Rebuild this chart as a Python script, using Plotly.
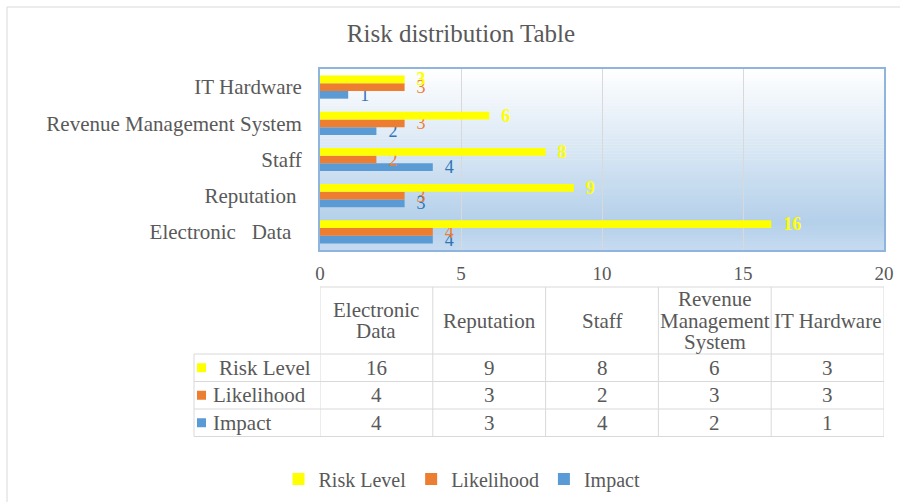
import plotly.graph_objects as go

# ---------------- data ----------------
categories = ["Electronic Data", "Reputation", "Staff", "Revenue Management System", "IT Hardware"]
tick_labels = ["Electronic\u00a0\u00a0\u00a0Data\u00a0\u00a0", "Reputation\u00a0", "Staff", "Revenue Management System", "IT Hardware"]
table_headers = ["Electronic<br>Data", "Reputation", "Staff", "Revenue<br>Management<br>System", "IT Hardware"]
risk_level = [16, 9, 8, 6, 3]
likelihood = [4, 3, 2, 3, 3]
impact = [4, 3, 4, 2, 1]
series_names = ["Risk Level", "Likelihood", "Impact"]
title_text = "Risk distribution Table"

W, H = 900, 502
FONT = "Liberation Serif, Times New Roman, serif"
GRAY = "#595959"
C_RISK, C_LIKE, C_IMP = "#ffff00", "#ed7d31", "#5b9bd5"


def px(x):
    return x / W


def py(y):
    return 1 - y / H


fig = go.Figure()
for name, vals, col, tcol, bold in [
    ("Impact", impact, C_IMP, "#2e75b6", False),
    ("Likelihood", likelihood, C_LIKE, "#ed7d31", False),
    ("Risk Level", risk_level, C_RISK, "#ffff00", True),
]:
    fig.add_trace(go.Bar(
        y=categories, x=vals, orientation="h", name=name,
        marker=dict(color=col, line=dict(width=0)),
        text=[("\u00a0\u00a0<b>%d</b>" if bold else "\u00a0\u00a0%d") % v for v in vals],
        textposition="outside", constraintext="none", cliponaxis=False,
        textfont=dict(family=FONT, size=18, color=tcol),
        hoverinfo="skip",
    ))

shapes = []
# gradient background of plot area
N = 60
def lerp(c1, c2, t):
    return tuple(round(a + (b - a) * t) for a, b in zip(c1, c2))
top_c, mid_c, bot_c = (255, 255, 255), (180, 208, 234), (198, 219, 240)
for i in range(N):
    t = (i + 0.5) / N  # from top
    if t < 0.85:
        c = lerp(top_c, mid_c, t / 0.85)
    else:
        c = lerp(mid_c, bot_c, (t - 0.85) / 0.15)
    shapes.append(dict(type="rect", xref="x domain", yref="y domain",
                       x0=0, x1=1, y0=1 - (i + 1) / N - 0.002, y1=1 - i / N,
                       fillcolor="rgb(%d,%d,%d)" % c, line=dict(width=0), layer="below"))

# outer chart border
shapes.append(dict(type="rect", xref="paper", yref="paper", x0=px(7), x1=1.02,
                   y0=-0.02, y1=py(7), line=dict(color="#d9d9d9", width=1)))

# ---------------- data table ----------------
LINE = dict(color="#d9d9d9", width=1)
y_head_top, y_head_bot = 287, 354
row_lines = [354, 381.5, 409, 436.5]
col_edges = [0, 4, 8, 12, 16, 20]
shapes.append(dict(type="line", xref="x", yref="paper", x0=0, x1=20,
                   y0=py(y_head_top), y1=py(y_head_top), line=LINE))
for yl in row_lines:
    shapes.append(dict(type="line", xref="paper", yref="paper", x0=px(194), x1=px(884),
                       y0=py(yl), y1=py(yl), line=LINE))
for xe in col_edges:
    shapes.append(dict(type="line", xref="x", yref="paper", x0=xe, x1=xe,
                       y0=py(y_head_top), y1=py(row_lines[-1]), line=LINE))
shapes.append(dict(type="line", xref="paper", yref="paper", x0=px(194), x1=px(194),
                   y0=py(row_lines[0]), y1=py(row_lines[-1]), line=LINE))

annotations = []
TFONT = dict(family=FONT, size=21, color=GRAY)
LINE_H = 21.5
for i, hdr in enumerate(table_headers):
    parts = hdr.split("<br>")
    yc = (y_head_top + y_head_bot) / 2
    for k, part in enumerate(parts):
        yk = yc + (k - (len(parts) - 1) / 2) * LINE_H
        annotations.append(dict(x=col_edges[i] + 2, y=py(yk),
                                xref="x", yref="paper", text=part, showarrow=False,
                                font=TFONT, xanchor="center", yanchor="middle"))
rows = [("Risk Level", risk_level, C_RISK), ("Likelihood", likelihood, C_LIKE), ("Impact", impact, C_IMP)]
for r, (name, vals, col) in enumerate(rows):
    yc = (row_lines[r] + row_lines[r + 1]) / 2
    shapes.append(dict(type="rect", xref="paper", yref="paper", x0=px(197), x1=px(206),
                       y0=py(yc + 4.5), y1=py(yc - 4.5), fillcolor=col, line=dict(width=0)))
    annotations.append(dict(x=px(211 if r else 217), y=py(yc), xref="paper", yref="paper",
                            text=name, showarrow=False, font=TFONT,
                            xanchor="left", yanchor="middle"))
    for i, v in enumerate(vals):
        annotations.append(dict(x=col_edges[i] + 2, y=py(yc), xref="x", yref="paper",
                                text=str(v), showarrow=False, font=TFONT,
                                xanchor="center", yanchor="middle"))

fig.update_layout(
    width=W, height=H,
    margin=dict(l=0, r=0, t=0, b=0, autoexpand=False),
    paper_bgcolor="white", plot_bgcolor="rgba(0,0,0,0)",
    title=dict(text=title_text, x=px(461), xanchor="center", y=py(33), yanchor="middle",
               font=dict(family=FONT, size=25, color=GRAY)),
    barmode="group", bargap=0.36, bargroupgap=0,
    xaxis=dict(domain=[px(320), px(884)], range=[0, 20], dtick=5, automargin=False,
               showgrid=True, gridcolor="#d9d9d9", gridwidth=1,
               zeroline=False, showline=True, linecolor="#8fb4de", linewidth=2, mirror=True,
               ticks="", ticklabelstandoff=5,
               tickfont=dict(family=FONT, size=19, color=GRAY)),
    yaxis=dict(domain=[py(250), py(69)], type="category", automargin=False,
               tickmode="array", tickvals=categories, ticktext=tick_labels,
               showgrid=False, zeroline=False, showline=True, linecolor="#8fb4de",
               linewidth=2, mirror=True, ticks="", ticklabelstandoff=12,
               tickfont=dict(family=FONT, size=21, color=GRAY)),
    legend=dict(orientation="h", x=px(462), xanchor="center", y=py(479), yanchor="middle",
                traceorder="reversed", font=dict(family=FONT, size=20, color=GRAY),
                itemclick=False, itemdoubleclick=False, bgcolor="rgba(0,0,0,0)"),
    shapes=shapes, annotations=annotations,
)

fig.write_html("out.html", config={"displayModeBar": False},
               post_script="document.body.style.margin='0';document.body.style.overflow='hidden';")
